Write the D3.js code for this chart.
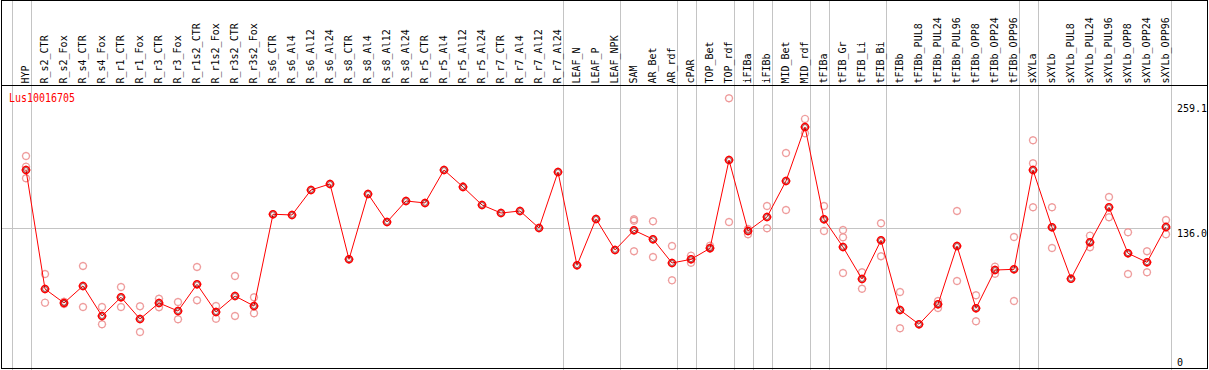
<!DOCTYPE html>
<html>
<head>
<meta charset="utf-8">
<script src="https://cdn.jsdelivr.net/npm/d3@7"></script>
<style>
  body { margin: 0; background: #fff; }
  text { font-family: 'DejaVu Sans Mono', monospace; }
</style>
</head>
<body>
<div id="chart"></div>
<script>
const geneName = 'Lus10016705';

const samples = [
  'HYP', 'R_s2_CTR', 'R_s2_Fox', 'R_s4_CTR', 'R_s4_Fox', 'R_r1_CTR', 'R_r1_Fox',
  'R_r3_CTR', 'R_r3_Fox', 'R_r1s2_CTR', 'R_r1s2_Fox', 'R_r3s2_CTR', 'R_r3s2_Fox',
  'R_s6_CTR', 'R_s6_Al4', 'R_s6_Al12', 'R_s6_Al24', 'R_s8_CTR', 'R_s8_Al4',
  'R_s8_Al12', 'R_s8_Al24', 'R_r5_CTR', 'R_r5_Al4', 'R_r5_Al12', 'R_r5_Al24',
  'R_r7_CTR', 'R_r7_Al4', 'R_r7_Al12', 'R_r7_Al24', 'LEAF_N', 'LEAF_P', 'LEAF_NPK',
  'SAM', 'AR_Bet', 'AR_rdf', 'cPAR', 'TOP_Bet', 'TOP_rdf', 'iFIBa', 'iFIBb',
  'MID_Bet', 'MID_rdf', 'tFIBa', 'tFIB_Gr', 'tFIB_Li', 'tFIB_Bi', 'tFIBb',
  'tFIBb_PUL8', 'tFIBb_PUL24', 'tFIBb_PUL96', 'tFIBb_OPP8', 'tFIBb_OPP24', 'tFIBb_OPP96',
  'sXYLa', 'sXYLb', 'sXYLb_PUL8', 'sXYLb_PUL24', 'sXYLb_PUL96', 'sXYLb_OPP8',
  'sXYLb_OPP24', 'sXYLb_OPP96'
];

const means = [
  193.2, 76.5, 62.8, 79.5, 50.0, 68.4, 47.1, 62.8, 54.9, 81.1, 53.9, 69.6, 59.8,
  149.8, 149.1, 173.6, 179.5, 105.6, 169.7, 142.2, 162.8, 160.9, 193.2, 176.6, 158.9,
  151.0, 153.0, 136.3, 191.3, 99.8, 145.2, 114.8,
  134.1, 125.3, 102.0, 105.6, 116.4, 203.0, 133.4, 147.1, 182.4, 235.4,
  144.9, 117.7, 86.3, 124.3, 55.9, 41.9, 61.5, 118.7, 57.6, 95.1, 95.8,
  193.2, 137.0, 86.6, 122.3, 156.6, 111.5, 102.7, 137.3
];

// replicate values per sample (empty where they sit under the mean)
const replicates = [
  [207.0, 196.5, 185.1], [91.2, 63.1], [64.1, 61.8], [99.1, 58.9], [58.9, 41.9],
  [78.5, 58.9], [59.5, 34.3], [67.0, 58.6], [63.8, 46.8], [98.1, 65.4], [59.8, 47.4],
  [89.3, 50.0], [68.4, 52.7],
  [], [], [], [], [], [], [], [], [], [], [], [], [], [], [], [], [], [], [],
  [144.9, 143.5, 113.5], [142.9, 107.9], [118.7, 85.0], [109.2, 102.3], [119.0, 117.0],
  [263.6, 142.2], [135.4, 130.2], [157.9, 136.0], [209.9, 154.0], [243.3, 229.2],
  [157.9, 133.4], [134.4, 127.2, 92.2], [92.9, 76.8], [141.0, 108.6], [73.6, 38.0],
  [], [64.7, 57.9], [153.0, 84.4], [70.3, 44.8], [98.4, 91.5], [127.5, 64.7],
  [222.4, 199.8, 156.6], [156.6, 116.7], [], [128.8, 117.4], [166.7, 146.8],
  [132.1, 91.2], [113.5, 92.9], [144.2, 130.2]
];

// last sample of each group; a separator line follows it
const groupEnds = ['HYP', 'R_r7_Al24', 'LEAF_NPK', 'AR_rdf', 'cPAR', 'TOP_rdf', 'iFIBa',
  'iFIBb', 'MID_rdf', 'tFIBa', 'tFIB_Bi', 'tFIBb_OPP96', 'sXYLa', 'sXYLb_OPP96'];

const yTicks = [0, 136.0, 259.1];
const yGrid = [136.0];

const width = 1209;
const height = 370;
const headerBottom = 85.5;

const svg = d3.select('#chart')
  .append('svg')
  .attr('width', width)
  .attr('height', height);

svg.append('rect')
  .attr('width', width)
  .attr('height', height)
  .attr('fill', '#fff');

const xScale = d3.scalePoint()
  .domain(samples)
  .range([26, 1166]);

const yScale = d3.scaleLinear()
  .domain([0, 259.1])
  .range([367, 102.8]);

const step = xScale.step();

// vertical separators
const sepX = [xScale(samples[0]) - step + 4.5].concat(groupEnds.map((s) => xScale(s) + 4.6));
svg.append('g')
  .selectAll('line')
  .data(sepX)
  .join('line')
  .attr('x1', (d) => Math.round(d) + 0.5)
  .attr('x2', (d) => Math.round(d) + 0.5)
  .attr('y1', 0)
  .attr('y2', height)
  .attr('stroke', '#c4c4c4')
  .attr('stroke-width', 1);

// horizontal grid
svg.append('g')
  .selectAll('line')
  .data(yGrid)
  .join('line')
  .attr('x1', 1)
  .attr('x2', 1171)
  .attr('y1', (d) => Math.round(yScale(d)) + 0.5)
  .attr('y2', (d) => Math.round(yScale(d)) + 0.5)
  .attr('stroke', '#c4c4c4');

// frame
svg.append('rect')
  .attr('x', 1.5)
  .attr('y', 0.5)
  .attr('width', 1206)
  .attr('height', 368)
  .attr('fill', 'none')
  .attr('stroke', '#000');

svg.append('line')
  .attr('x1', 1)
  .attr('x2', 1208)
  .attr('y1', headerBottom)
  .attr('y2', headerBottom)
  .attr('stroke', '#000');

// column labels
svg.append('g')
  .selectAll('text')
  .data(samples)
  .join('text')
  .attr('transform', (d) => `translate(${xScale(d) + 3}, 83.5) rotate(-90)`)
  .attr('font-size', 10)
  .attr('fill', '#000')
  .text((d) => d);

// right-hand value labels
const yAxis = d3.axisRight(yScale)
  .tickValues(yTicks)
  .tickSize(0)
  .tickPadding(0)
  .tickFormat((d) => (d === 0 ? '0' : d.toFixed(1)));

svg.append('g')
  .attr('transform', 'translate(1177, 0)')
  .call(yAxis)
  .call((g) => g.select('.domain').remove())
  .call((g) => g.selectAll('text')
    .attr('font-family', "'DejaVu Sans Mono', monospace")
    .attr('font-size', 10)
    .attr('fill', '#000')
    .attr('dy', (d) => (d === 0 ? '-0.2em' : '0.85em')));

// gene name
svg.append('text')
  .attr('x', 9)
  .attr('y', 101.5)
  .attr('font-size', 12)
  .attr('textLength', 66)
  .attr('lengthAdjust', 'spacingAndGlyphs')
  .attr('fill', '#ff0000')
  .text(geneName);

const marker = (g, r, tick) => {
  g.append('circle').attr('r', r).attr('fill', 'none');
  g.append('path')
    .attr('d', `M0,${-r - tick}V${-r}M0,${r}V${r + tick}M${-r - tick},0H${-r}M${r},0H${r + tick}`);
};

// replicates
const repData = replicates.flatMap((vals, i) => vals.map((v) => ({ s: samples[i], v })));
svg.append('g')
  .selectAll('g')
  .data(repData)
  .join('g')
  .attr('transform', (d) => `translate(${xScale(d.s)}, ${yScale(d.v)})`)
  .attr('stroke', '#ee9a9a')
  .attr('stroke-width', 1.2)
  .each(function () { marker(d3.select(this), 3.4, 0.8); });

// mean line
const line = d3.line()
  .x((d, i) => xScale(samples[i]))
  .y((d) => yScale(d));

svg.append('path')
  .datum(means)
  .attr('d', line)
  .attr('fill', 'none')
  .attr('stroke', '#ff0000')
  .attr('stroke-width', 1);

// mean markers
const meanG = svg.append('g')
  .selectAll('g')
  .data(means)
  .join('g')
  .attr('transform', (d, i) => `translate(${xScale(samples[i])}, ${yScale(d)})`);

meanG.append('g')
  .attr('stroke', '#ff0000')
  .attr('stroke-width', 1.6)
  .each(function () { marker(d3.select(this), 3.5, 0.8); });

meanG.append('circle')
  .attr('r', 2.4)
  .attr('fill', 'none')
  .attr('stroke', '#500')
  .attr('stroke-width', 0.6);
</script>
</body>
</html>
